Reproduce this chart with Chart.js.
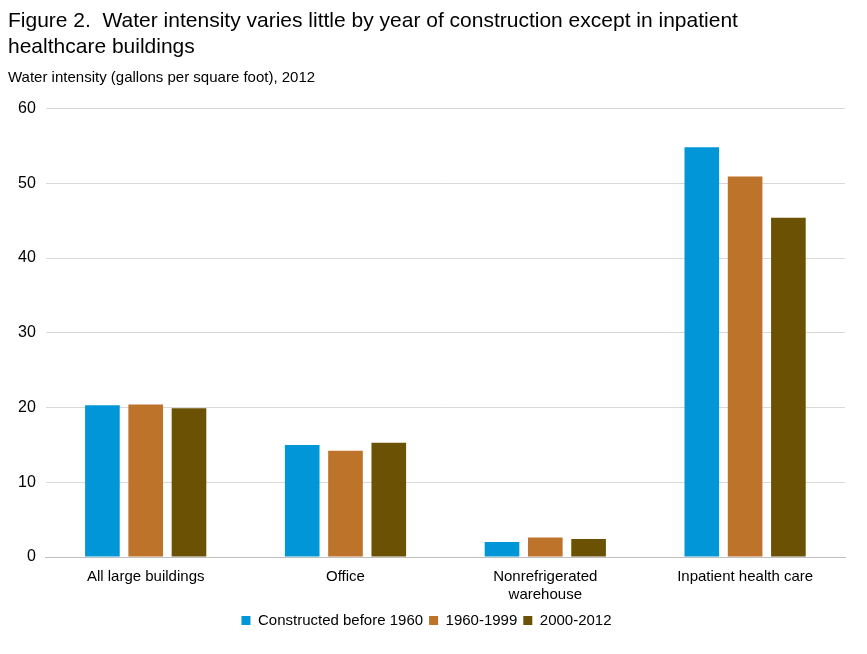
<!DOCTYPE html>
<html>
<head>
<meta charset="utf-8">
<script src="https://cdn.jsdelivr.net/npm/chart.js@4"></script>
<style>
  body { margin: 0; background: #fff; }
  #wrap { width: 867px; height: 654px; position: relative; }
</style>
</head>
<body>
<div id="wrap"><canvas id="c"></canvas></div>
<script>
const categories = ["All large buildings", "Office", ["Nonrefrigerated", "warehouse"], "Inpatient health care"];
const seriesNames = ["Constructed before 1960", "1960-1999", "2000-2012"];
const before1960 = [20.3, 15.0, 2.0, 54.8];
const from1960to1999 = [20.4, 14.2, 2.6, 50.9];
const from2000to2012 = [19.9, 15.3, 2.4, 45.4];
const colors = ["#0096d7", "#bd732a", "#6a5104"];
const yTicks = [0, 10, 20, 30, 40, 50, 60];

Chart.defaults.font.family = "'Liberation Sans', Arial, sans-serif";
Chart.defaults.color = "#000";

const values = [before1960, from1960to1999, from2000to2012];

new Chart(document.getElementById("c"), {
  type: "bar",
  data: {
    labels: categories,
    datasets: values.map((v, i) => ({
      label: seriesNames[i],
      data: v,
      backgroundColor: colors[i],
      categoryPercentage: 0.65,
      barPercentage: 0.8
    }))
  },
  options: {
    responsive: true,
    maintainAspectRatio: false,
    animation: false,
    layout: { padding: { left: 8, right: 22, top: 4, bottom: 16 } },
    plugins: {
      title: {
        display: true,
        align: "start",
        text: ["Figure 2.  Water intensity varies little by year of construction except in inpatient", "healthcare buildings"],
        font: { size: 21, weight: "normal", lineHeight: 1.25 },
        padding: { top: 4, bottom: 8 }
      },
      subtitle: {
        display: true,
        align: "start",
        text: "Water intensity (gallons per square foot), 2012",
        font: { size: 15 },
        padding: { bottom: 22 }
      },
      legend: {
        position: "bottom",
        labels: { boxWidth: 9, boxHeight: 9, font: { size: 15 }, padding: 6 }
      },
      tooltip: { enabled: false }
    },
    scales: {
      x: {
        grid: { display: false },
        border: { color: "#bfbfbf" },
        ticks: { font: { size: 15 }, maxRotation: 0 }
      },
      y: {
        min: 0,
        max: 60,
        afterBuildTicks: axis => { axis.ticks = yTicks.map(v => ({ value: v })); },
        grid: { color: "#d9d9d9", drawTicks: false },
        border: { display: false },
        ticks: { font: { size: 16 }, padding: 10 }
      }
    }
  }
});
</script>
</body>
</html>
